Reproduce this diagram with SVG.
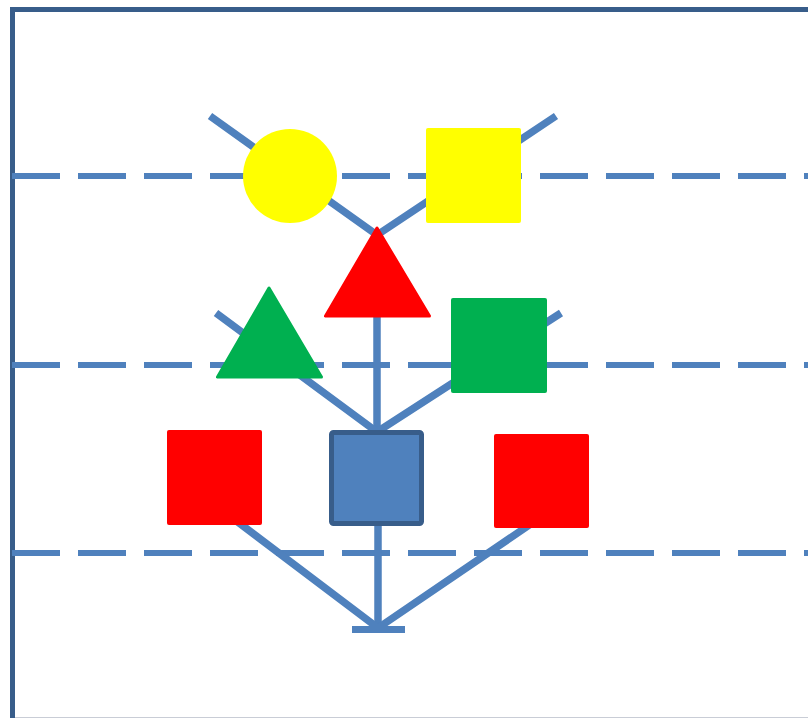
<svg xmlns="http://www.w3.org/2000/svg" width="808" height="718" viewBox="0 0 808 718">
  <style>
    .frame { stroke: #385D8A; stroke-width: 5; fill: none; }
    .dash { stroke: #4F81BD; stroke-width: 6; stroke-dasharray: 48 18; fill: none; }
    .edge { stroke: #4F81BD; stroke-width: 7.5; fill: none; }
    .yellow { fill: #FFFF00; }
    .red { fill: #FF0000; }
    .green { fill: #00B050; }
    .tri { stroke-linejoin: round; stroke-width: 3; }
    .tri.red { stroke: #FF0000; }
    .tri.green { stroke: #00B050; }
    .blue { fill: #4F81BD; stroke: #385D8A; stroke-width: 5; }
  </style>
  <rect width="808" height="718" fill="#FFFFFF"/>
  <g id="background">
    <line x1="10" y1="717.5" x2="808" y2="717.5" stroke="#C9CDD6" stroke-width="1"/>
    <path class="frame" d="M12.5 718 V9.5 H808"/>
    <line class="dash" x1="12" y1="176" x2="808" y2="176"/>
    <line class="dash" x1="12" y1="365" x2="808" y2="365"/>
    <line class="dash" x1="12" y1="553" x2="808" y2="553"/>
  </g>
  <g id="connectors">
    <polyline class="edge" points="210,116 377,235 556,116"/>
    <line class="edge" x1="377" y1="235" x2="377" y2="432"/>
    <polyline class="edge" points="216,313 377,432 561,313"/>
    <line class="edge" x1="378" y1="432" x2="378" y2="629"/>
    <polyline class="edge" points="214,504 378,628 541,517"/>
    <line x1="352" y1="629.5" x2="405" y2="629.5" stroke="#4F81BD" stroke-width="7"/>
  </g>
  <g id="yellow-circle"><circle class="yellow" cx="290" cy="176" r="47"/></g>
  <g id="yellow-square"><rect class="yellow" x="426" y="128" width="95" height="95" rx="2"/></g>
  <g id="red-triangle"><polygon class="red tri" points="377,228 325.5,316 429.5,316"/></g>
  <g id="green-triangle"><polygon class="green tri" points="269,288 217.5,377 321.5,377"/></g>
  <g id="green-square"><rect class="green" x="451" y="298" width="96" height="95" rx="2"/></g>
  <g id="red-square-left"><rect class="red" x="167" y="430" width="95" height="95" rx="2"/></g>
  <g id="blue-square"><rect class="blue" x="331.5" y="432.5" width="90" height="91" rx="2"/></g>
  <g id="red-square-right"><rect class="red" x="494" y="434" width="95" height="94" rx="2"/></g>
</svg>
